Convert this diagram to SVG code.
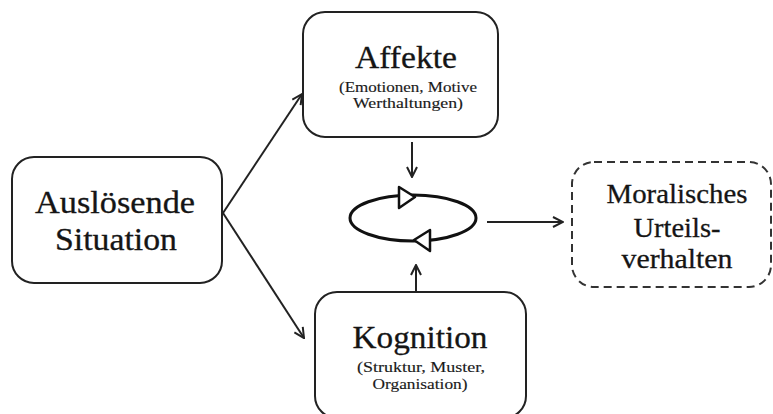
<svg xmlns="http://www.w3.org/2000/svg" width="773" height="414" viewBox="0 0 773 414">
<defs>
<style>
.box{fill:#fff;stroke:#222;stroke-width:2}
.dash{fill:#fff;stroke:#333;stroke-width:2;stroke-dasharray:8 5}
.line{fill:none;stroke:#222;stroke-width:2}
.big{font-family:"Liberation Serif","DejaVu Serif",serif;font-size:31px;fill:#151515;stroke:#151515;stroke-width:0.3;text-anchor:middle}
.mid{font-family:"Liberation Serif","DejaVu Serif",serif;font-size:28px;fill:#151515;stroke:#151515;stroke-width:0.3;text-anchor:middle}
.small{font-family:"Liberation Serif","DejaVu Serif",serif;font-size:15.5px;fill:#1a1a1a;stroke:#1a1a1a;stroke-width:0.15;text-anchor:middle}
.tri{fill:#fff;stroke:#111;stroke-width:2.5;stroke-linejoin:round}
</style>
<marker id="open" viewBox="0 0 12 12" refX="11" refY="6" markerWidth="12" markerHeight="12" markerUnits="userSpaceOnUse" orient="auto">
<path d="M1,1 L11,6 L1,11" fill="none" stroke="#222" stroke-width="2"/>
</marker>
</defs>
<g id="connectors">
<line class="line" x1="223" y1="213" x2="302" y2="94" marker-end="url(#open)"/>
<line class="line" x1="223" y1="213" x2="304" y2="338" marker-end="url(#open)"/>
<line class="line" x1="412" y1="142" x2="412" y2="177" marker-end="url(#open)"/>
<line class="line" x1="416" y1="292" x2="416" y2="265" marker-end="url(#open)"/>
<line class="line" x1="487" y1="222" x2="563" y2="222" marker-end="url(#open)"/>
</g>
<g id="cycle">
<ellipse cx="413" cy="218" rx="63" ry="23" fill="none" stroke="#111" stroke-width="3"/>
<path class="tri" d="M399,187 L415,197 L399,208 Z"/>
<path class="tri" d="M430,230 L414,240 L430,251 Z"/>
</g>
<g id="node-ausloesende">
<rect class="box" x="12" y="157" width="210" height="126" rx="22"/>
<text class="big" x="115" y="213" textLength="160" lengthAdjust="spacingAndGlyphs">Auslösende</text>
<text class="big" x="116" y="250" textLength="122" lengthAdjust="spacingAndGlyphs">Situation</text>
</g>
<g id="node-affekte">
<rect class="box" x="303" y="12" width="195" height="125" rx="22"/>
<text class="big" x="406" y="68" textLength="102" lengthAdjust="spacingAndGlyphs">Affekte</text>
<text class="small" x="408" y="92" textLength="138" lengthAdjust="spacingAndGlyphs">(Emotionen, Motive</text>
<text class="small" x="408" y="108" textLength="110" lengthAdjust="spacingAndGlyphs">Werthaltungen)</text>
</g>
<g id="node-kognition">
<rect class="box" x="315" y="292" width="211" height="126" rx="22"/>
<text class="big" x="420" y="348" textLength="135" lengthAdjust="spacingAndGlyphs">Kognition</text>
<text class="small" x="421" y="372" textLength="128" lengthAdjust="spacingAndGlyphs">(Struktur, Muster,</text>
<text class="small" x="420" y="389" textLength="95" lengthAdjust="spacingAndGlyphs">Organisation)</text>
</g>
<g id="node-moralisches">
<rect class="dash" x="572" y="162" width="199" height="125" rx="22"/>
<text class="mid" x="677" y="203" textLength="141" lengthAdjust="spacingAndGlyphs">Moralisches</text>
<text class="mid" x="677" y="237" textLength="87" lengthAdjust="spacingAndGlyphs">Urteils-</text>
<text class="mid" x="677" y="268" textLength="111" lengthAdjust="spacingAndGlyphs">verhalten</text>
</g>
</svg>
